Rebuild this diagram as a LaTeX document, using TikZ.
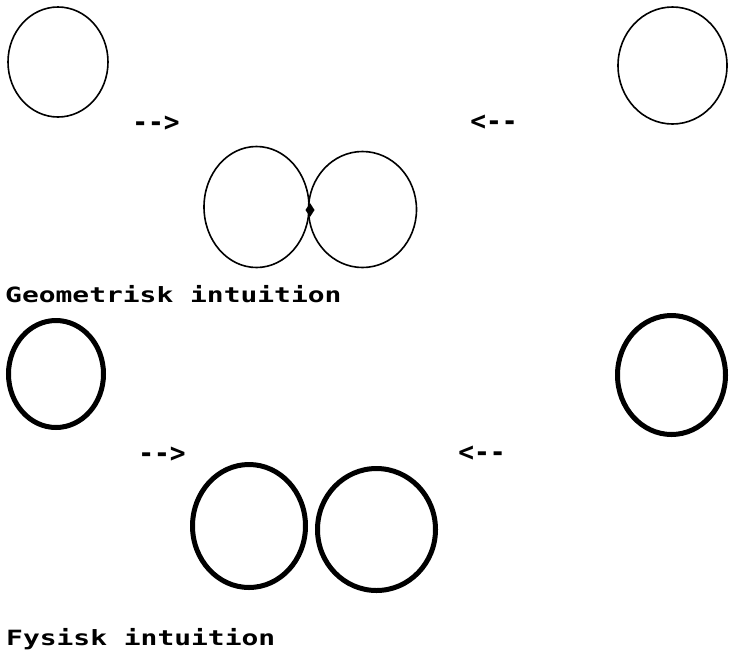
\documentclass[tikz,border=0pt]{standalone}
\usepackage{fontspec}
\usepackage{graphicx}
\newfontfamily\pixfont{DejaVu Sans Mono Bold}
\tikzset{
  thinring/.style={line width=1.6pt},
  thickring/.style={line width=5pt},
  lbl/.style={inner sep=0pt, font=\pixfont\fontsize{21}{21}\selectfont},
  arr/.style={inner sep=0pt, font=\pixfont\fontsize{27}{27}\selectfont},
}
\newcommand{\wide}[1]{\scalebox{1.33}[1]{#1}}
\newcommand{\arrtxt}[1]{\scalebox{0.97}[1]{#1}}
\begin{document}
\begin{tikzpicture}[x=1pt,y=-1pt]
\useasboundingbox[fill=white] (0,0) rectangle (733,654);
% geometric intuition
\draw[thinring] (58,62) ellipse [x radius=50, y radius=55];
\draw[thinring] (672.5,65.5) ellipse [x radius=54.5, y radius=58.5];
\draw[thinring] (256.5,207) ellipse [x radius=52.5, y radius=60.5];
\draw[thinring] (362.5,209.5) ellipse [x radius=54, y radius=58];
\fill (310,203) -- (314.5,210) -- (310,217) -- (305.5,210) -- cycle;
\node[arr] (ga) at (156,124) {\arrtxt{-{}-{}>}};
\node[arr] (gb) at (494,123) {\arrtxt{<{}-{}-}};
\node[lbl, anchor=base west] (gt) at (5,302) {\wide{Geometrisk intuition}};
% physical intuition
\draw[thickring] (56,374) ellipse [x radius=47.5, y radius=53.5];
\draw[thickring] (671.5,375) ellipse [x radius=54, y radius=59.5];
\draw[thickring] (249,526) ellipse [x radius=56.5, y radius=61.5];
\draw[thickring] (376.5,529.5) ellipse [x radius=59, y radius=61];
\node[arr] (fa) at (162,455) {\arrtxt{-{}-{}>}};
\node[arr] (fb) at (482,454) {\arrtxt{<{}-{}-}};
\node[lbl, anchor=base west] (ft) at (6,645) {\wide{Fysisk intuition}};
\end{tikzpicture}
\end{document}
